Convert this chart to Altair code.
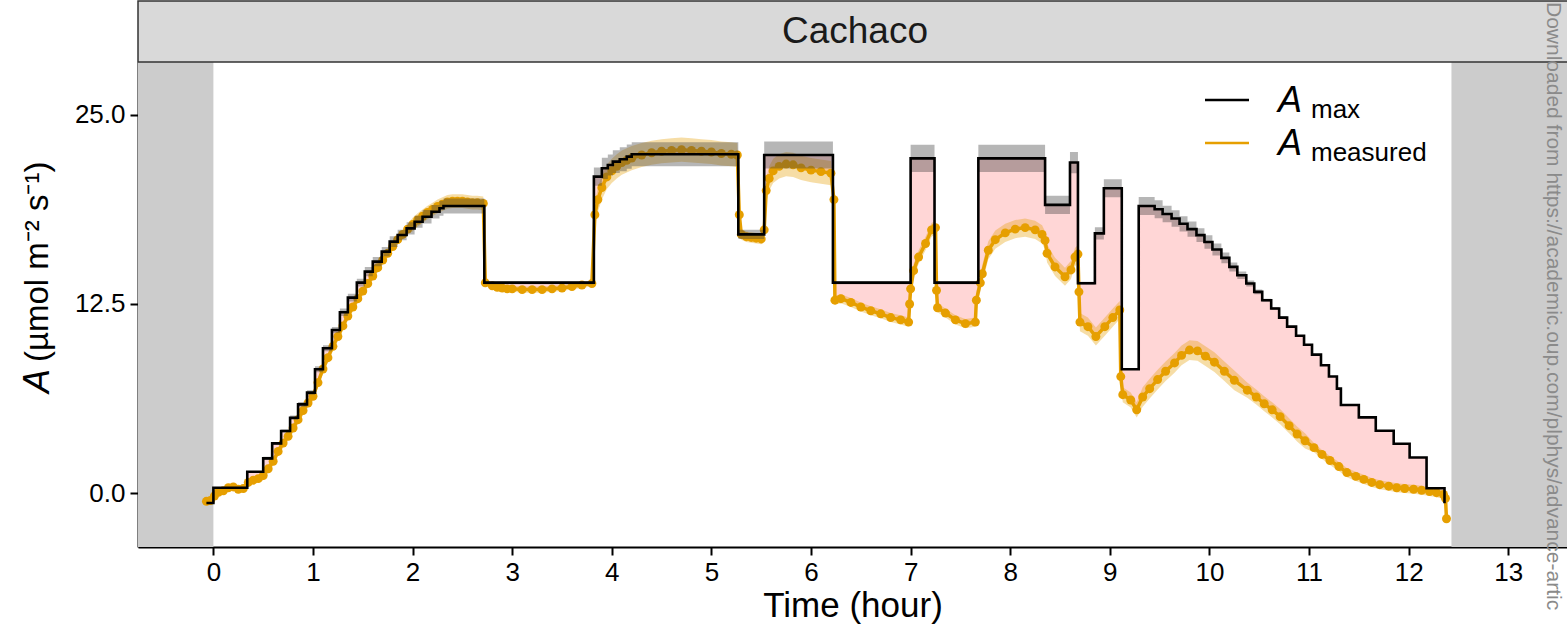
import altair as alt
import pandas as pd
import numpy as np

FONT = "Liberation Sans"
X_MIN, X_MAX = -0.757, 13.59
Y_MIN, Y_MAX = -3.57, 28.5
W, H = 1429, 485

# ---- A_max (step function: value holds from t until next t) ----
amax_t = [-0.07, 0.0, 0.34, 0.50, 0.59, 0.68, 0.77, 0.85, 0.94, 1.02, 1.10, 1.19, 1.27, 1.35, 1.44,
          1.52, 1.60, 1.69, 1.77, 1.85, 1.94, 2.02, 2.10, 2.19, 2.27, 2.31, 2.72, 3.82, 3.90, 3.96,
          4.01, 4.08, 4.15, 4.20, 5.27, 5.53, 6.22, 7.00, 7.24, 7.68, 8.35, 8.60, 8.68, 8.85, 8.94,
          9.12, 9.29, 9.45, 9.53, 9.62, 9.70, 9.78, 9.87, 9.95, 10.03, 10.12, 10.20, 10.28, 10.37,
          10.45, 10.53, 10.62, 10.70, 10.78, 10.87, 10.95, 11.03, 11.12, 11.20, 11.28, 11.32, 11.50,
          11.67, 11.85, 12.01, 12.18, 12.36]
amax_v = [-0.66, 0.35, 1.41, 2.29, 3.28, 4.10, 4.98, 5.86, 6.64, 8.18, 9.57, 10.78, 11.95, 12.92, 13.91,
          14.64, 15.30, 15.96, 16.62, 17.06, 17.50, 17.94, 18.27, 18.60, 18.83, 18.98, 13.91, 20.92, 21.47, 21.69,
          21.91, 22.07, 22.24, 22.40, 17.10, 22.35, 13.91, 22.13, 13.91, 22.13, 19.05, 21.85, 13.87, 17.17, 20.15,
          8.18, 18.98, 18.76, 18.45, 18.15, 17.80, 17.45, 17.05, 16.60, 16.10, 15.55, 14.95, 14.40, 13.85,
          13.30, 12.75, 12.20, 11.60, 11.00, 10.40, 9.80, 9.15, 8.45, 7.70, 6.90, 5.82, 5.00,
          4.12, 3.26, 2.35, 0.31, -0.68]
amax_sd = [0.0, 0.05, 0.05, 0.1, 0.1, 0.1, 0.15, 0.15, 0.15, 0.2, 0.2, 0.2, 0.25, 0.25, 0.25,
           0.3, 0.3, 0.3, 0.35, 0.35, 0.4, 0.4, 0.45, 0.45, 0.5, 0.5, 0.1, 0.6, 0.7, 0.7,
           0.75, 0.8, 0.8, 0.8, 0.3, 0.9, 0.1, 0.9, 0.1, 0.9, 0.6, 0.7, 0.1, 0.4, 0.6,
           0.05, 0.6, 0.6, 0.55, 0.55, 0.5, 0.5, 0.45, 0.45, 0.4, 0.35, 0.3, 0.25, 0.2,
           0.15, 0.1, 0.1, 0.1, 0.05, 0.05, 0.05, 0.0, 0.0, 0.0, 0.0, 0.0, 0.0,
           0.0, 0.0, 0.0, 0.0, 0.0]

# ---- A_measured ----
meas_t = [-0.07, -0.03, 0.01, 0.05, 0.10, 0.15, 0.20, 0.25, 0.30, 0.35, 0.40, 0.45, 0.50, 0.55, 0.60,
          0.65, 0.70, 0.75, 0.80, 0.85, 0.90, 0.95, 1.00, 1.05, 1.10, 1.15, 1.20, 1.25, 1.30, 1.35,
          1.40, 1.45, 1.50, 1.55, 1.60, 1.65, 1.70, 1.75, 1.80, 1.85, 1.90, 1.95, 2.00, 2.05, 2.10,
          2.15, 2.20, 2.25, 2.30, 2.35, 2.40, 2.45, 2.50, 2.55, 2.60, 2.65, 2.71, 2.73, 2.80, 2.85,
          2.90, 2.95, 3.00, 3.10, 3.20, 3.30, 3.40, 3.50, 3.60, 3.70, 3.80, 3.83, 3.86, 3.90, 3.95,
          4.00, 4.05, 4.10, 4.15, 4.20, 4.30, 4.40, 4.50, 4.60, 4.70, 4.80, 4.90, 5.00, 5.10, 5.20,
          5.26, 5.28, 5.30, 5.35, 5.40, 5.45, 5.50, 5.53, 5.55, 5.58, 5.62, 5.68, 5.75, 5.82, 5.90,
          6.00, 6.10, 6.20, 6.23, 6.24, 6.30, 6.40, 6.50, 6.60, 6.70, 6.80, 6.90, 6.98, 6.99, 7.00,
          7.03, 7.08, 7.15, 7.21, 7.25, 7.26, 7.27, 7.35, 7.45, 7.55, 7.65, 7.66, 7.70, 7.72, 7.78,
          7.85, 7.95, 8.05, 8.15, 8.25, 8.32, 8.35, 8.37, 8.45, 8.55, 8.61, 8.65, 8.68, 8.69, 8.70,
          8.78, 8.86, 8.95, 9.03, 9.10, 9.11, 9.13, 9.21, 9.27, 9.33, 9.40, 9.48, 9.56, 9.65, 9.72,
          9.80, 9.88, 9.96, 10.05, 10.15, 10.25, 10.38, 10.47, 10.55, 10.63, 10.71, 10.80, 10.88, 10.96, 11.05,
          11.13, 11.21, 11.30, 11.38, 11.47, 11.55, 11.63, 11.71, 11.80, 11.88, 11.96, 12.05, 12.13, 12.21, 12.28,
          12.35, 12.37, 12.38]
meas_v = [-0.55, -0.50, -0.20, 0.05, 0.15, 0.35, 0.40, 0.25, 0.30, 0.70, 0.85, 0.95, 1.15, 1.60, 2.10,
          2.75, 3.30, 3.75, 4.30, 4.85, 5.45, 5.95, 6.40, 7.30, 8.20, 8.95, 9.70, 10.35, 11.05, 11.70,
          12.30, 12.85, 13.35, 13.85, 14.35, 14.90, 15.40, 15.85, 16.30, 16.75, 17.10, 17.45, 17.75, 18.05, 18.30,
          18.55, 18.75, 18.95, 19.10, 19.25, 19.30, 19.30, 19.30, 19.25, 19.20, 19.20, 19.15, 13.90, 13.70, 13.60,
          13.55, 13.50, 13.50, 13.45, 13.45, 13.45, 13.50, 13.55, 13.65, 13.75, 13.85, 18.40, 19.40, 20.20, 20.90,
          21.30, 21.60, 21.85, 22.00, 22.15, 22.35, 22.50, 22.60, 22.65, 22.70, 22.65, 22.60, 22.55, 22.45, 22.40,
          22.35, 18.40, 17.10, 16.95, 16.90, 16.85, 16.80, 17.40, 20.00, 20.80, 21.30, 21.60, 21.75, 21.70, 21.50,
          21.35, 21.25, 21.15, 19.40, 12.75, 12.85, 12.60, 12.30, 12.05, 11.85, 11.60, 11.45, 11.30, 12.50, 13.50,
          14.70, 15.60, 16.50, 17.40, 17.55, 13.40, 12.25, 11.90, 11.45, 11.20, 11.30, 12.75, 13.90, 14.50, 16.05,
          16.75, 17.20, 17.45, 17.55, 17.40, 17.10, 16.70, 15.85, 14.95, 14.30, 14.75, 15.60, 15.80, 13.30, 11.30,
          11.00, 10.35, 11.00, 11.60, 12.10, 7.70, 6.50, 6.15, 5.50, 6.35, 6.90, 7.50, 8.05, 8.60, 9.10,
          9.45, 9.40, 9.05, 8.65, 8.05, 7.45, 6.80, 6.35, 5.90, 5.50, 5.05, 4.45, 3.90, 3.45, 3.00,
          2.55, 2.15, 1.75, 1.35, 1.10, 0.90, 0.70, 0.55, 0.45, 0.35, 0.30, 0.25, 0.18, 0.10, 0.02,
          -0.10, -0.35, -1.70]

# measurement uncertainty (half-width) by time segment
err_seg_start = [-0.1, 0.5, 2.0, 2.72, 3.82, 5.27, 5.53, 6.23, 6.99, 7.26, 7.66, 8.36, 8.69, 9.11, 9.30, 10.30, 11.00]
err_seg_val = [0.2, 0.3, 0.45, 0.2, 0.8, 0.35, 0.8, 0.3, 0.45, 0.3, 0.6, 0.6, 0.6, 0.5, 0.65, 0.5, 0.3]

night_start = [X_MIN, 12.43]
night_end = [0.0, X_MAX]

x_ticks = list(range(0, 14))
y_ticks = [0.0, 12.5, 25.0]

# ---- tables ----
amax_df = pd.DataFrame({"t": amax_t, "v": amax_v})
amax_df["lo"] = amax_df["v"] - np.array(amax_sd)
amax_df["hi"] = amax_df["v"] + np.array(amax_sd)

seg_idx = np.searchsorted(err_seg_start, meas_t, side="right") - 1
meas_err = np.array(err_seg_val)[seg_idx]
meas_df = pd.DataFrame({"t": meas_t, "v": meas_v})
meas_df["lo"] = meas_df["v"] - meas_err
meas_df["hi"] = meas_df["v"] + meas_err
meas_df["i"] = range(len(meas_df))


def amax_at(t):
    k = int(np.searchsorted(amax_t, t, side="right")) - 1
    return amax_v[max(k, 0)]


rows = []
for t, v in zip(meas_t, meas_v):
    rows.append((t, 1.0, amax_at(t), v))
for k in range(1, len(amax_t)):
    ts = amax_t[k]
    if ts < meas_t[0] or ts > meas_t[-1]:
        continue
    m = float(np.interp(ts, meas_t, meas_v))
    rows.append((ts, 0.0, amax_v[k - 1], m))
    rows.append((ts, 0.5, amax_v[k], m))
rows.sort(key=lambda r: (r[0], r[1]))
fill_df = pd.DataFrame(rows, columns=["t", "sub", "top", "bot"])

night_df = pd.DataFrame({"start": night_start, "end": night_end})
one = pd.DataFrame({"k": [0]})

xscale = alt.Scale(domain=[X_MIN, X_MAX], nice=False, zero=False)
yscale = alt.Scale(domain=[Y_MIN, Y_MAX], nice=False, zero=False)
xaxis = alt.Axis(values=x_ticks, title="Time (hour)", format="d", labelFontSize=26, titleFontSize=35,
                 tickSize=8, tickWidth=2, domainWidth=2, labelPadding=4, titlePadding=3,
                 titleFontWeight="normal", grid=False)
yaxis = alt.Axis(values=y_ticks, title="", format=".1f", labelFontSize=26, tickSize=8, tickWidth=2,
                 domainWidth=2, labelPadding=5, grid=False)

X = lambda f: alt.X(f, type="quantitative", scale=xscale, axis=xaxis)
Y = lambda f: alt.Y(f, type="quantitative", scale=yscale, axis=yaxis)

night = alt.Chart(night_df).mark_rect(color="#CCCCCC").encode(
    x=X("start"), x2="end", y=alt.value(0), y2=alt.value(H))

fill = alt.Chart(fill_df).mark_area(color="#FFD6D6", interpolate="linear").encode(
    x=X("t"), y=Y("top"), y2="bot")

meas_band = alt.Chart(meas_df).mark_area(color="#E69F00", opacity=0.35).encode(
    x=X("t"), y=Y("lo"), y2="hi")

meas_line = alt.Chart(meas_df).mark_line(color="#E69F00", strokeWidth=3.5).encode(
    x=X("t"), y=Y("v"), order="i:Q")

meas_pts = alt.Chart(meas_df).mark_circle(color="#E69F00", size=80, opacity=1).encode(
    x=X("t"), y=Y("v"))

amax_band = alt.Chart(amax_df).mark_area(color="#404040", opacity=0.38, interpolate="step-after").encode(
    x=X("t"), y=Y("lo"), y2="hi")

amax_line = alt.Chart(amax_df).mark_line(color="black", strokeWidth=2.6, interpolate="step-after").encode(
    x=X("t"), y=Y("v"))

# facet strip
strip = alt.Chart(one).mark_rect(fill="#D9D9D9", stroke="#333333", strokeWidth=1.5).encode(
    x=alt.value(0), x2=alt.value(W + 20), y=alt.value(-61), y2=alt.value(0))
strip_txt = alt.Chart(one).mark_text(text="Cachaco", fontSize=37, font=FONT, color="#1a1a1a",
                                     baseline="middle", align="center").encode(
    x=alt.value(855 - 138), y=alt.value(-30))

# y-axis title
ytitle_a = alt.Chart(one).mark_text(text="A", fontSize=36, font=FONT, fontStyle="italic", angle=270,
                                    align="left", baseline="middle", color="black").encode(
    x=alt.value(38 - 138), y=alt.value(393 - 62))
ytitle_b = alt.Chart(one).mark_text(text="(µmol m⁻² s⁻¹)", fontSize=33, font=FONT, angle=270,
                                    align="left", baseline="middle", color="black").encode(
    x=alt.value(38 - 138), y=alt.value(362 - 62))

# legend
leg_l1 = alt.Chart(one).mark_rule(color="black", strokeWidth=2.6).encode(
    x=alt.value(1205 - 138), x2=alt.value(1249 - 138), y=alt.value(100 - 62))
leg_l2 = alt.Chart(one).mark_rule(color="#E69F00", strokeWidth=2.6).encode(
    x=alt.value(1205 - 138), x2=alt.value(1249 - 138), y=alt.value(143 - 62))
leg_a1 = alt.Chart(one).mark_text(text="A", fontSize=36, font=FONT, fontStyle="italic", align="left",
                                  baseline="alphabetic", color="black").encode(
    x=alt.value(1278 - 138), y=alt.value(112 - 62))
leg_s1 = alt.Chart(one).mark_text(text="max", fontSize=26, font=FONT, align="left",
                                  baseline="alphabetic", color="black").encode(
    x=alt.value(1311 - 138), y=alt.value(118 - 62))
leg_a2 = alt.Chart(one).mark_text(text="A", fontSize=36, font=FONT, fontStyle="italic", align="left",
                                  baseline="alphabetic", color="black").encode(
    x=alt.value(1278 - 138), y=alt.value(155 - 62))
leg_s2 = alt.Chart(one).mark_text(text="measured", fontSize=26, font=FONT, align="left",
                                  baseline="alphabetic", color="black").encode(
    x=alt.value(1311 - 138), y=alt.value(161 - 62))

watermark = alt.Chart(one).mark_text(
    text="Downloaded from https://academic.oup.com/plphys/advance-artic",
    fontSize=21, font=FONT, angle=90, align="left", baseline="middle", color="#8a8a8a").encode(
    x=alt.value(1553 - 138), y=alt.value(-60))

chart = alt.layer(
    night, fill, meas_band, meas_line, meas_pts, amax_band, amax_line,
    strip, strip_txt, ytitle_a, ytitle_b,
    leg_l1, leg_l2, leg_a1, leg_s1, leg_a2, leg_s2, watermark
).properties(
    width=W, height=H,
    autosize=alt.AutoSizeParams(type="none"),
    padding={"left": 138, "top": 62, "right": 0, "bottom": 87},
).configure_view(strokeWidth=0).configure_axis(
    labelFont=FONT, titleFont=FONT, labelColor="black", titleColor="black",
    domainColor="black", tickColor="black"
)

chart.save("out.html", embed_options={"renderer": "svg", "actions": False})
